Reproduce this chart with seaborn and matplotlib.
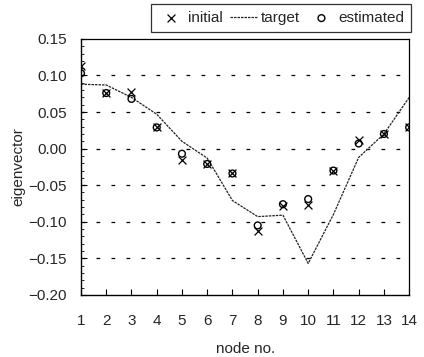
import numpy as np
import pandas as pd
import matplotlib
matplotlib.use("Agg")
import matplotlib.pyplot as plt
from matplotlib.ticker import MultipleLocator
import seaborn as sns

sns.set_theme(style="white")
plt.rcParams['font.family'] = ['Liberation Sans', 'DejaVu Sans']

nodes = list(range(1, 15))
initial = [0.113, 0.076, 0.077, 0.029, -0.016, -0.021, -0.034,
           -0.112, -0.079, -0.077, -0.030, 0.012, 0.020, 0.029]
target = [0.088, 0.087, 0.070, 0.047, 0.010, -0.013, -0.071,
          -0.093, -0.091, -0.157, -0.090, -0.012, 0.020, 0.070]
estimated = [0.103, 0.076, 0.068, 0.029, -0.007, -0.021, -0.034,
             -0.105, -0.076, -0.069, -0.030, 0.007, 0.020, 0.029]

df = pd.DataFrame({"node": nodes, "initial": initial,
                   "target": target, "estimated": estimated})

fig = plt.figure(figsize=(4.24, 3.57), dpi=100)
ax = fig.add_axes([0.191, 0.174, 0.774, 0.717])

# horizontal dashed grid at the major y ticks
for yv in [0.10, 0.05, 0.00, -0.05, -0.10, -0.15]:
    ax.axhline(yv, color="black", lw=0.9, ls=(0, (3, 9)), zorder=1)

sns.lineplot(data=df, x="node", y="target", ax=ax, color="#222222",
             lw=0.9, ls=(0, (2, 0.8)), zorder=2, label="target")
sns.scatterplot(data=df, x="node", y="initial", ax=ax, marker="x",
                color="black", s=32, linewidth=0.9, zorder=3, label="initial")
sns.scatterplot(data=df, x="node", y="estimated", ax=ax, marker="o",
                facecolor="none", edgecolor="black", s=24, linewidth=1.0,
                zorder=4, label="estimated")

ax.set_xlim(1, 14)
ax.set_ylim(-0.20, 0.15)
ax.set_xticks(nodes)
ax.set_xticklabels([str(n) for n in nodes])
ax.yaxis.set_major_locator(MultipleLocator(0.05))
ax.yaxis.set_minor_locator(MultipleLocator(0.01))
ax.set_yticklabels([f"{v:.2f}".replace("-", "\u2212") for v in ax.get_yticks()])
ax.tick_params(axis="both", which="both", direction="in", labelsize=11,
               color="black")
ax.tick_params(axis="x", which="major", pad=14)
ax.tick_params(axis="y", which="major", pad=10)
ax.tick_params(axis="both", which="major", length=4, width=0.8)
ax.tick_params(axis="y", which="minor", length=2.5, width=0.6, left=True)
ax.tick_params(axis="x", which="major", bottom=True)
ax.tick_params(axis="y", which="major", left=True)

for side in ["left", "bottom"]:
    ax.spines[side].set_color("black")
    ax.spines[side].set_linewidth(1.0)
for side in ["top", "right"]:
    ax.spines[side].set_color("black")
    ax.spines[side].set_linewidth(0.9)
    ax.spines[side].set_linestyle((0, (1, 1)))

ax.set_xlabel("node no.", fontsize=11, labelpad=10)
ax.set_ylabel("eigenvector", fontsize=11, labelpad=2)

handles, labels = ax.get_legend_handles_labels()
order = [labels.index(n) for n in ["initial", "target", "estimated"]]
leg = ax.legend([handles[i] for i in order], [labels[i] for i in order],
                ncol=3, loc="lower right", bbox_to_anchor=(1.006, 1.027),
                frameon=True, fancybox=False, fontsize=11,
                handlelength=1.8, handletextpad=0.2, columnspacing=0.5,
                borderpad=0.45, borderaxespad=0)
leg.get_frame().set_edgecolor("black")
leg.get_frame().set_linewidth(0.9)

fig.savefig("out.png", dpi=100)
